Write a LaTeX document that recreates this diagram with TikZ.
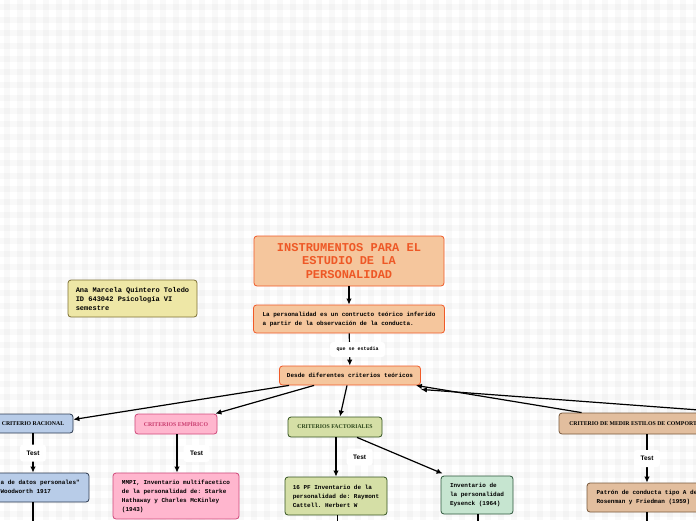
\documentclass[tikz,border=0pt]{standalone}
\usepackage{fontspec}
\setmainfont{Liberation Serif}
\setsansfont{Liberation Sans}
\setmonofont{Liberation Mono}
\usetikzlibrary{arrows.meta,positioning,calc}
\definecolor{peach}{RGB}{245,198,157}
\definecolor{orangeline}{RGB}{240,90,40}
\definecolor{titlered}{RGB}{238,88,38}
\definecolor{paleyellow}{RGB}{238,231,166}
\definecolor{olive}{RGB}{125,112,52}
\definecolor{lightblue}{RGB}{184,204,232}
\definecolor{navyline}{RGB}{45,58,80}
\definecolor{pink}{RGB}{255,182,206}
\definecolor{pinkline}{RGB}{208,72,122}
\definecolor{pinktext}{RGB}{200,60,110}
\definecolor{olivegreen}{RGB}{213,223,166}
\definecolor{greenline}{RGB}{52,84,32}
\definecolor{greentext}{RGB}{44,70,26}
\definecolor{mint}{RGB}{198,229,208}
\definecolor{mintline}{RGB}{44,86,58}
\definecolor{tan}{RGB}{226,190,158}
\definecolor{brownline}{RGB}{120,88,60}

\begin{document}
\begin{tikzpicture}[x=1pt,y=-1pt]
    \tikzstyle{cbox}=[rectangle,rounded corners=3pt,draw,line width=0.8pt,inner sep=0pt,%
    align=left,font=\ttfamily\bfseries\fontsize{6}{9}\selectfont] %
    \tikzstyle{orangebox}=[cbox,draw=orangeline,fill=peach] %
    \tikzstyle{crit}=[cbox,align=center,font=\rmfamily\bfseries\fontsize{5.8}{6}\selectfont] %
    \tikzstyle{tlabel}=[rectangle,rounded corners=3pt,fill=white,inner sep=0pt,%
    font=\sffamily\bfseries\fontsize{6.5}{7}\selectfont,minimum width=26pt,minimum height=17pt] %
    \tikzstyle{arr}=[-{Latex[length=6pt,width=5.5pt]},line width=1.2pt] %

    % background
    \useasboundingbox (0,0) rectangle (696,520);
    \fill[white] (0,0) rectangle (696,520);
    \foreach \x in {4,17,...,696}
      \fill[black,opacity=0.022] (\x,0) rectangle ++(6,520);
    \foreach \y in {4,17,...,520}
      \fill[black,opacity=0.022] (0,\y) rectangle ++(696,6);

    \node[orangebox,align=center,text=titlered,minimum width=190pt,minimum height=50pt,%
      font=\ttfamily\bfseries\fontsize{12}{13.5}\selectfont] (TITLE) at (349,261)
      {INSTRUMENTOS PARA EL\\ESTUDIO DE LA\\PERSONALIDAD};
    \node[orangebox,minimum width=191pt,minimum height=28pt] (DEF) at (349,319)
      {La personalidad es un contructo teórico inferido\\a partir de la observación de la conducta.};
    \node[orangebox,minimum width=141pt,minimum height=19pt] (DESDE) at (350,375.5)
      {Desde diferentes criterios teóricos};

    \node[cbox,draw=olive,fill=paleyellow,minimum width=129pt,minimum height=37pt,%
      font=\ttfamily\bfseries\fontsize{7}{9}\selectfont] (AUTHOR) at (132.5,298.5)
      {Ana Marcela Quintero Toledo\\ID 643042 Psicología VI\\semestre};

    \node[crit,draw=navyline,fill=lightblue,minimum width=80pt,minimum height=19pt] (RAC) at (33,423.5)
      {CRITERIO RACIONAL};
    \node[crit,draw=pinkline,fill=pink,text=pinktext,minimum width=82pt,minimum height=20pt] (EMP) at (176,424)
      {CRITERIOS EMPÍRICO};
    \node[crit,draw=greenline,fill=olivegreen,text=greentext,minimum width=94pt,minimum height=20pt] (FAC) at (335,427)
      {CRITERIOS FACTORIALES};
    \node[crit,draw=brownline,fill=tan,minimum width=176pt,minimum height=21pt] (MED) at (647,423.5)
      {CRITERIO DE MEDIR ESTILOS DE COMPORTAMIENTO};

    \node[cbox,draw=navyline,fill=lightblue,minimum width=112pt,minimum height=29pt] (RACT) at (33,487.5)
      {"Hoja de datos personales"\\por Woodworth 1917};
    \node[cbox,draw=pinkline,fill=pink,minimum width=126pt,minimum height=46pt] (EMPT) at (176,496)
      {MMPI, Inventario multifacetico\\de la personalidad de: Starke\\Hathaway y Charles McKinley\\(1943)};
    \node[cbox,draw=greenline,fill=olivegreen,minimum width=102pt,minimum height=38pt] (FACT) at (336,496)
      {16 PF Inventario de la\\personalidad de: Raymont\\Cattell. Herbert W};
    \node[cbox,draw=mintline,fill=mint,minimum width=72pt,minimum height=38pt] (EYS) at (477,495)
      {Inventario de\\la personalidad\\Eysenck (1964)};
    \node[cbox,draw=brownline,fill=tan,minimum width=120pt,minimum height=29pt] (MEDT) at (647,497.5)
      {Patrón de conducta tipo A de\\Rosenman y Friedman (1959)};

    \coordinate (OFFR) at (780,416);
    \coordinate (RACD) at (33,545);
    \coordinate (FACD) at (337.5,545);
    \coordinate (EYSD) at (478,545);
    \coordinate (MEDD) at (647,545);

    \draw[arr] (TITLE) -- (DEF);
    \draw[arr] (DEF) -- node[tlabel,xshift=8pt,minimum width=55pt,minimum height=15pt,%
      font=\ttfamily\bfseries\fontsize{5}{6}\selectfont] {que se estudia} (DESDE);

    \draw[arr] ([xshift=10pt]DESDE.south west) -- ([yshift=4pt]RAC.east);
    \draw[arr] ([xshift=35pt]DESDE.south west) -- ([xshift=-2pt]EMP.north east);
    \draw[arr] ([xshift=-3pt]DESDE.south) -- ([xshift=5pt]FAC.north);
    \draw[arr] ([xshift=23pt]MED.north west) -- ([xshift=-5pt]DESDE.south east);
    \draw[arr] (OFFR) -- ([yshift=-4pt]DESDE.south east);

    \draw[arr] (RAC) -- node[tlabel] {Test} (RACT);
    \draw[arr] ([xshift=1pt]EMP.south) -- node[tlabel,right=6pt] {Test} ([xshift=1pt]EMPT.north);
    \draw[arr] ([xshift=1pt]FAC.south) -- node[tlabel,right=10pt] {Test} (FACT.north);
    \draw[arr] ([xshift=22pt]FAC.south) -- ([xshift=2pt,yshift=2pt]EYS.north west);
    \draw[arr] (MED) -- node[tlabel] {Test} (MEDT);

    \draw[arr] (RACT) -- (RACD);
    \draw[arr] ([xshift=1.5pt]FACT.south) -- (FACD);
    \draw[arr] ([xshift=1pt]EYS.south) -- (EYSD);
    \draw[arr] (MEDT) -- (MEDD);
\end{tikzpicture}
\end{document}
